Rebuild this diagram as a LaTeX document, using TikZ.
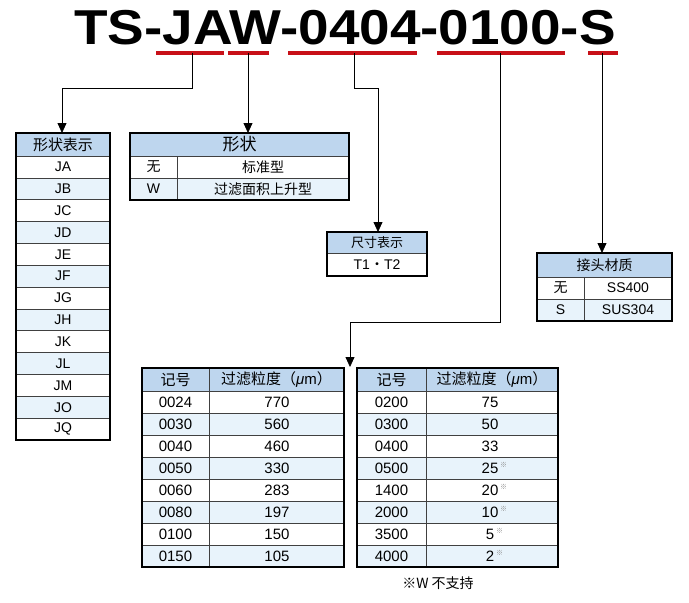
\documentclass[tikz,border=0pt]{standalone}
\usepackage{fontspec}
\setmainfont{Liberation Sans}
\newfontfamily\cjk{Noto Sans CJK SC}
\usetikzlibrary{arrows.meta}
\definecolor{hdr}{RGB}{190,214,238}
\definecolor{alt}{RGB}{232,243,251}
\definecolor{ul}{RGB}{200,16,24}
\begin{document}
\begin{tikzpicture}[x=1pt,y=-1pt,
  outer/.style={draw=black,line width=2pt},
  inner/.style={draw=black!75,line width=0.7pt},
  conn/.style={draw=black,line width=0.8pt,-{Triangle[length=10pt,width=9pt]}},
  redl/.style={draw=ul,line width=4pt},
  cell/.style={inner sep=0pt,anchor=center,font=\fontsize{14}{14}\selectfont},
  hcell/.style={inner sep=0pt,anchor=center,font=\fontsize{15}{15}\selectfont\cjk},
  star/.style={inner sep=0.5pt,anchor=south west,text=black!45,font=\fontsize{7}{7}\selectfont\cjk}]
\useasboundingbox (0,0) rectangle (689,603);
% title
\node[inner sep=0pt,xscale=1.12,font=\fontsize{49}{49}\selectfont\bfseries] (title) at (345,28) {TS-JAW-0404-0100-S};
% underlines
\coordinate (u1) at (192,53); \coordinate (u2) at (248,53); \coordinate (u3) at (354,53);
\coordinate (u4) at (500,53); \coordinate (u5) at (602,53);
\draw[redl] (156,53) -- (224,53);
\draw[redl] (228,53) -- (269,53);
\draw[redl] (288,53) -- (417,53);
\draw[redl] (437,53) -- (565,53);
\draw[redl] (588,53) -- (618,53);
% targets
\coordinate (t1) at (62,133); \coordinate (t2) at (248,133); \coordinate (t3) at (378,232);
\coordinate (t4) at (350,367); \coordinate (t5) at (602,253);
\draw[conn] (u1) |- (62,88) -- (t1);
\draw[conn] (u2) -- (t2);
\draw[conn] (u3) |- (378,88) -- (t3);
\draw[conn] (u4) |- (350,322) -- (t4);
\draw[conn] (u5) -- (t5);
% table 1: 形状表示
\fill[hdr] (16,133) rectangle (110,156);
\foreach \l [count=\i from 0] in {JA,JB,JC,JD,JE,JF,JG,JH,JK,JL,JM,JO,JQ}{
  \pgfmathsetmacro\ya{156+21.85*\i}
  \pgfmathsetmacro\yb{156+21.85*(\i+1)}
  \ifodd\i \fill[alt] (16,\ya) rectangle (110,\yb); \fi
  \draw[inner] (16,\ya) -- (110,\ya);
  \node[cell] (s\i) at (63,{(\ya+\yb)/2}) {\l};
}
\node[hcell] (h1) at (63,144.5) {形状表示};
\draw[outer] (16,133) rectangle (110,440);
% table 2: 形状
\fill[hdr] (130,133) rectangle (349,156);
\fill[alt] (130,178) rectangle (349,200);
\draw[inner] (130,156) -- (349,156) (130,178) -- (349,178) (177,156) -- (177,200);
\node[hcell,font=\fontsize{17}{17}\selectfont\cjk] (h2) at (239.5,144.5) {形状};
\node[cell,font=\fontsize{14}{14}\selectfont\cjk] (k1) at (153.5,167) {无};
\node[cell,font=\fontsize{14}{14}\selectfont\cjk] (k2v) at (263,167) {标准型};
\node[cell] (k2) at (153.5,189) {W};
\node[cell,font=\fontsize{14}{14}\selectfont\cjk] (k3v) at (263,189) {过滤面积上升型};
\draw[outer] (130,133) rectangle (349,200);
% table 3: 尺寸表示
\fill[hdr] (327,232) rectangle (427,253);
\draw[inner] (327,253) -- (427,253);
\node[hcell,font=\fontsize{13}{13}\selectfont\cjk] (h3) at (377,242.5) {尺寸表示};
\node[cell] (tt) at (377,264.5) {T1{\cjk ・}T2};
\draw[outer] (327,232) rectangle (427,276);
% table 4: 接头材质
\fill[hdr] (537,253) rectangle (672,277);
\fill[alt] (537,299) rectangle (672,321);
\draw[inner] (537,277) -- (672,277) (537,299) -- (672,299) (584,277) -- (584,321);
\node[hcell,font=\fontsize{14}{14}\selectfont\cjk] (h4) at (604.5,265) {接头材质};
\node[cell,font=\fontsize{14}{14}\selectfont\cjk] (m1) at (560.5,288) {无};
\node[cell] (m1v) at (628,288) {SS400};
\node[cell] (m2) at (560.5,310) {S};
\node[cell] (m2v) at (628,310) {SUS304};
\draw[outer] (537,253) rectangle (672,321);
% filter table left
\fill[hdr] (142,368) rectangle (344,391);
\foreach \a/\b [count=\i from 0] in {0024/770,0030/560,0040/460,0050/330,0060/283,0080/197,0100/150,0150/105}{
  \pgfmathsetmacro\ya{391+22*\i}
  \pgfmathsetmacro\yb{391+22*(\i+1)}
  \ifodd\i \fill[alt] (142,\ya) rectangle (344,\yb); \fi
  \draw[inner] (142,\ya) -- (344,\ya);
  \node[cell,font=\fontsize{15}{15}\selectfont] (la\i) at (175.5,{(\ya+\yb)/2}) {\a};
  \node[cell,font=\fontsize{15}{15}\selectfont] (lb\i) at (277,{(\ya+\yb)/2}) {\b};
}
\draw[inner] (209,368) -- (209,567);
\node[hcell] (h5) at (175.5,379.5) {记号};
\node[hcell] (h6) at (276.5,379.5) {过滤粒度（\textit{\fontspec{Liberation Sans}μ}{\fontspec{Liberation Sans}m}）};
\draw[outer] (142,368) rectangle (344,567);
% filter table right
\fill[hdr] (357,368) rectangle (558,391);
\foreach \a/\b/\s [count=\i from 0] in {0200/75/0,0300/50/0,0400/33/0,0500/25/1,1400/20/1,2000/10/1,3500/5/1,4000/2/1}{
  \pgfmathsetmacro\ya{391+22*\i}
  \pgfmathsetmacro\yb{391+22*(\i+1)}
  \ifodd\i \fill[alt] (357,\ya) rectangle (558,\yb); \fi
  \draw[inner] (357,\ya) -- (558,\ya);
  \node[cell,font=\fontsize{15}{15}\selectfont] (ra\i) at (391.5,{(\ya+\yb)/2}) {\a};
  \node[cell,font=\fontsize{15}{15}\selectfont] (rb\i) at (490,{(\ya+\yb)/2}) {\b};
  \ifnum\s=1 \node[star] (rs\i) at ([xshift=1pt]rb\i.east) {※}; \fi
}
\draw[inner] (426,368) -- (426,567);
\node[hcell] (h7) at (391.5,379.5) {记号};
\node[hcell] (h8) at (492,379.5) {过滤粒度（\textit{\fontspec{Liberation Sans}μ}{\fontspec{Liberation Sans}m}）};
\draw[outer] (357,368) rectangle (558,567);
% note
\node[inner sep=0pt,font=\fontsize{14}{14}\selectfont\cjk] (note) at (438,583) {※W 不支持};
\end{tikzpicture}
\end{document}
